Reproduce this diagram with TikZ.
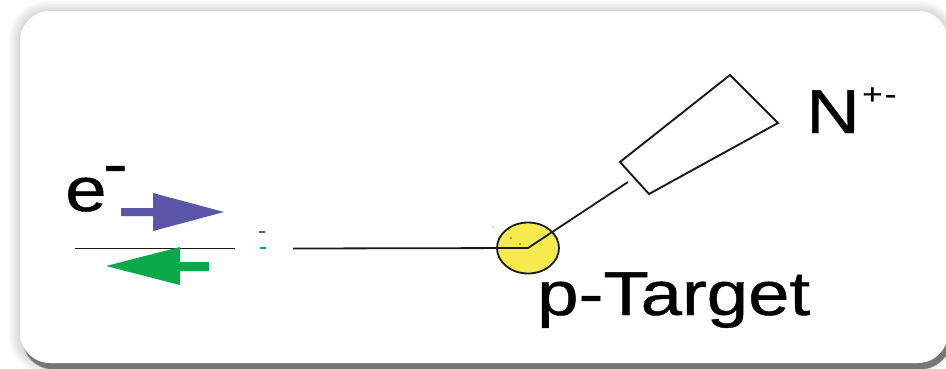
\documentclass[tikz,border=0pt]{standalone}
\usepackage{fontspec}
\setmainfont{Liberation Sans}[FakeBold=0.5]
\newfontfamily\heavysans{Liberation Sans}[UprightFeatures={FakeBold=0.6}]
\usepackage{graphicx}
\usetikzlibrary{shapes.geometric}
\definecolor{beamblue}{HTML}{5A55A6}
\definecolor{beamgreen}{HTML}{0BA84A}
\definecolor{targetyellow}{HTML}{F7EA4E}
\tikzset{
  bigtext/.style={anchor=base west, inner sep=0pt, font=\heavysans\fontsize{62}{62}\selectfont},
  smalltext/.style={anchor=base west, inner sep=0pt, font=\heavysans\fontsize{29}{29}\selectfont},
  thinline/.style={line width=1.8pt, black!90},
  detline/.style={line width=1.9pt, black!90, line join=miter},
  speck/.style={fill=black!70},
}
\begin{document}
\begin{tikzpicture}[x=1pt,y=-1pt]
\useasboundingbox (0,0) rectangle (946,368);
\clip (0,0) rectangle (946,368);
% background and soft shadow
\fill[white] (0,0) rectangle (946,368);
\foreach \i in {1,...,7}{
  \fill[black, opacity=0.018, rounded corners=30+\i pt] (20-1.6*\i,11-1.4*\i) rectangle (950+\i,366+\i);
}
\fill[black!62, rounded corners=30pt] (23,17) rectangle (951,369);
\fill[black!45, opacity=0.5, rounded corners=32pt] (22,15) rectangle (951,370);
\fill[white, rounded corners=30pt] (20,11) rectangle (948,363);

% target
\node[ellipse, draw=black!90, line width=1.8pt, fill=targetyellow, minimum width=62pt, minimum height=51pt, inner sep=0pt] (target) at (528,248) {};
\fill[speck] (511,238) circle (0.9);
\fill[speck] (520,244) circle (0.8);
\fill[speck] (493,227) circle (0.7);

% beam line
\coordinate (b1) at (75,248.5);
\coordinate (b2) at (235,248.5);
\coordinate (b3) at (293,248.5);
\draw[thinline] (b1) -- (b2);
\draw[thinline] (b3) -- (target.center);

% beam arrows
\fill[beamblue] (121,208) -- (153,208) -- (153,193) -- (224,212) -- (153,231) -- (153,216) -- (121,216) -- cycle;
\fill[beamgreen] (209,262) -- (180,262) -- (180,247) -- (106,266) -- (180,285) -- (180,271) -- (209,271) -- cycle;
\fill[beamblue] (259,231) rectangle (265,233);
\fill[beamgreen] (260,247.2) rectangle (266,249);

% detector
\coordinate (d1) at (620,162);
\coordinate (d2) at (730,75);
\coordinate (d3) at (778,123);
\coordinate (d4) at (649,194);
\draw[detline] (d1) -- (d2) -- (d3) -- (d4) -- cycle;
\coordinate (det) at (628,182);
\draw[thinline] (target.center) -- (det);

% labels
\node[bigtext] (elabel) at (65,211) {\scalebox{1.2}[1]{e\kern-3pt\raisebox{26pt}{-}}};
\node[bigtext] (nlabel) at (806,133) {\scalebox{1.2}[1]{N}};
\node[smalltext] (nsup) at (862,104) {\scalebox{1.2}[1]{+\kern2pt-}};
\node[bigtext] (tlabel) at (537,315) {\scalebox{1.2}[1]{p-Target}};
\end{tikzpicture}
\end{document}
